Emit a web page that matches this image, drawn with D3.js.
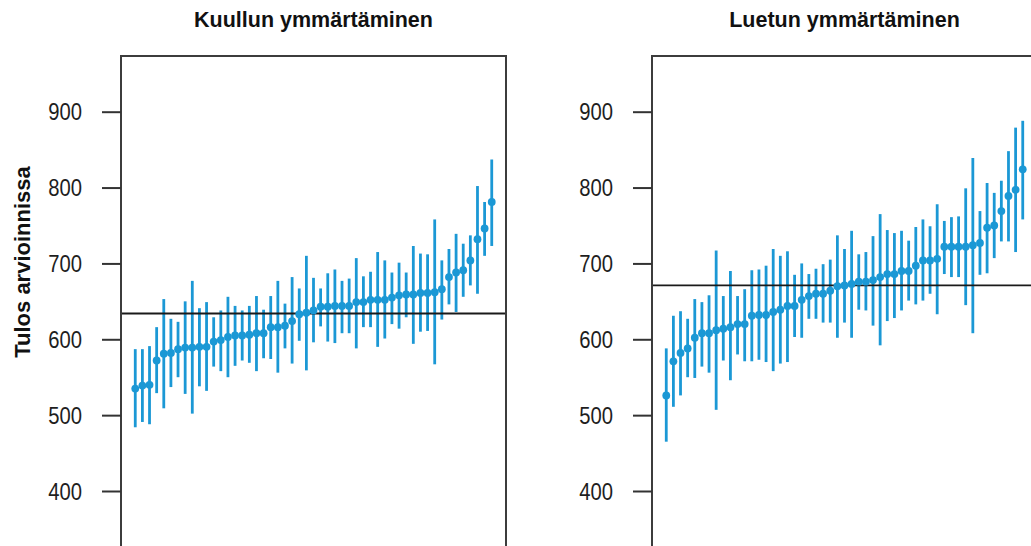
<!DOCTYPE html>
<html>
<head>
<meta charset="utf-8">
<script src="https://cdn.jsdelivr.net/npm/d3@7"></script>
<style>
  html, body { margin: 0; padding: 0; background: #fff; }
  svg { display: block; }
</style>
</head>
<body>
<svg id="chart" width="1031" height="546"></svg>
<script>
// Panel titles and shared axis
const panelTitles = ["Kuullun ymmärtäminen", "Luetun ymmärtäminen"];
const yAxisTitle = "Tulos arvioinnissa";
const yTicks = [400, 500, 600, 700, 800, 900];

// Overall mean of each test (horizontal reference lines)
const overallMeans = [634, 671];

// Listening comprehension: school means with interval ends, sorted by mean
const listenMean = [535, 539, 540, 572, 581, 582, 587, 589, 589, 590, 590, 597, 599, 603, 605, 605, 606, 608, 608, 616, 616, 618, 624, 633, 635, 638, 643, 643, 644, 644, 644, 649, 649, 652, 652, 652, 655, 658, 659, 659, 661, 661, 662, 666, 682, 688, 691, 704, 732, 746, 781];
const listenLow  = [484, 491, 488, 529, 509, 537, 550, 528, 502, 538, 532, 564, 558, 550, 565, 572, 569, 558, 575, 574, 556, 588, 568, 598, 559, 596, 617, 597, 595, 608, 608, 588, 616, 616, 590, 601, 620, 614, 629, 594, 610, 611, 567, 626, 646, 636, 656, 671, 660, 710, 723];
const listenHigh = [587, 587, 591, 616, 653, 627, 623, 650, 677, 641, 649, 629, 638, 656, 644, 638, 644, 657, 639, 657, 677, 647, 682, 667, 710, 681, 667, 687, 692, 677, 680, 707, 683, 689, 715, 704, 688, 701, 688, 723, 713, 712, 758, 704, 719, 739, 726, 737, 802, 781, 837];

// Reading comprehension: school means with interval ends, sorted by mean
const readMean = [526, 571, 582, 588, 602, 608, 608, 612, 614, 616, 620, 620, 631, 632, 632, 636, 639, 644, 644, 652, 657, 660, 660, 664, 670, 671, 673, 676, 676, 678, 682, 686, 686, 690, 690, 697, 704, 704, 706, 722, 722, 722, 722, 724, 727, 747, 750, 769, 789, 797, 824];
const readLow  = [465, 511, 526, 550, 549, 564, 556, 507, 572, 546, 580, 571, 571, 573, 570, 558, 568, 570, 603, 602, 627, 627, 622, 622, 602, 622, 602, 639, 638, 618, 592, 624, 628, 638, 651, 646, 651, 660, 633, 686, 682, 682, 645, 608, 685, 687, 707, 729, 729, 715, 758];
const readHigh = [588, 631, 637, 627, 653, 649, 658, 717, 657, 690, 657, 666, 691, 692, 697, 719, 710, 716, 685, 700, 686, 693, 699, 705, 737, 719, 743, 712, 715, 736, 765, 744, 740, 743, 730, 748, 758, 749, 778, 756, 761, 762, 799, 839, 769, 806, 793, 809, 848, 879, 888];

const panels = [
  { title: panelTitles[0], mean: listenMean, low: listenLow, high: listenHigh, ref: overallMeans[0], left: 121 },
  { title: panelTitles[1], mean: readMean, low: readLow, high: readHigh, ref: overallMeans[1], left: 652 }
];

const svg = d3.select("#chart");
const panelWidth = 385;
const plotTop = 56;
const plotBottom = 620;
const pointColor = "#1b98d5";
const font = "'Liberation Sans', Arial, sans-serif";
const textColor = "#1e1e1e";

// shared vertical scale
const y = d3.scaleLinear().domain([400, 900]).range([491, 111.7]);

panels.forEach((p, k) => {
  const n = p.mean.length;
  const pad = (n - 1) * 0.04;
  const x = d3.scaleLinear().domain([1 - pad, n + pad]).range([p.left, p.left + panelWidth]);
  const g = svg.append("g");

  // error bars
  g.selectAll("line.err").data(p.mean).join("line")
    .attr("class", "err")
    .attr("x1", (d, i) => x(i + 1)).attr("x2", (d, i) => x(i + 1))
    .attr("y1", (d, i) => y(p.low[i])).attr("y2", (d, i) => y(p.high[i]))
    .attr("stroke", pointColor).attr("stroke-width", 2.8);

  // reference line at the overall mean
  g.append("line")
    .attr("x1", p.left).attr("x2", p.left + panelWidth)
    .attr("y1", y(p.ref)).attr("y2", y(p.ref))
    .attr("stroke", "#1a1a1a").attr("stroke-width", 1.8);

  // means
  g.selectAll("circle.pt").data(p.mean).join("circle")
    .attr("class", "pt")
    .attr("cx", (d, i) => x(i + 1)).attr("cy", d => y(d))
    .attr("r", 3.9).attr("fill", pointColor);

  // frame
  g.append("rect")
    .attr("x", p.left).attr("y", plotTop)
    .attr("width", panelWidth).attr("height", plotBottom - plotTop)
    .attr("fill", "none").attr("stroke", "#3c3c3c").attr("stroke-width", 2);

  // y axis, with slightly condensed labels
  const sx = 0.88;
  const axis = d3.axisLeft(y).tickValues(yTicks).tickSize(19).tickFormat(d3.format("d"));
  const ag = svg.append("g").attr("transform", `translate(${p.left},0)`).call(axis);
  ag.select(".domain").remove();
  ag.selectAll(".tick line").attr("stroke", "#333").attr("stroke-width", 2);
  ag.selectAll(".tick text")
    .attr("fill", textColor).attr("font-family", font).attr("font-size", 23)
    .attr("x", -39 / sx)
    .attr("transform", `scale(${sx},1)`)
    .attr("dy", "0.36em");

  // title
  svg.append("text")
    .attr("x", p.left + panelWidth / 2).attr("y", 27)
    .attr("text-anchor", "middle")
    .attr("font-family", font).attr("font-weight", "bold").attr("font-size", 21.5)
    .attr("fill", "#111")
    .text(p.title);
});

// y axis title
svg.append("text")
  .attr("transform", "translate(30,262) rotate(-90)")
  .attr("text-anchor", "middle")
  .attr("font-family", font).attr("font-weight", "bold").attr("font-size", 22)
  .attr("fill", "#111")
  .text(yAxisTitle);
</script>
</body>
</html>
